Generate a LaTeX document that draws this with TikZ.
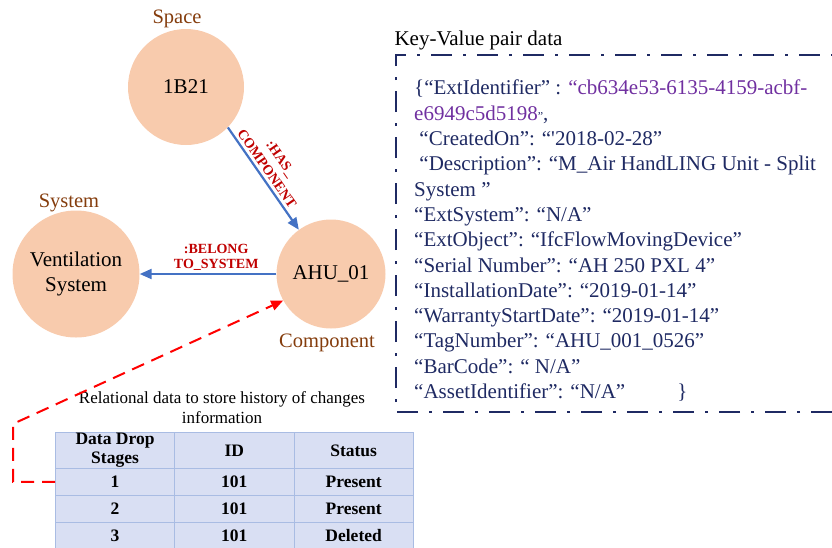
\documentclass[tikz,border=0pt]{standalone}
\usepackage{fontspec}
\setmainfont{Liberation Serif}
\usepackage{xcolor}
\usetikzlibrary{arrows.meta}

\definecolor{peach}{HTML}{F8CBAD}
\definecolor{tagbrown}{HTML}{843C0C}
\definecolor{relblue}{HTML}{4472C4}
\definecolor{reldark}{HTML}{C00000}
\definecolor{navy}{HTML}{1F2A63}
\definecolor{idpurple}{HTML}{7030A0}
\definecolor{cellfill}{HTML}{D9DFF3}
\definecolor{cellline}{HTML}{A9BCE3}

\begin{document}
\begin{tikzpicture}[x=1pt,y=-1pt,
    entity/.style={circle,fill=peach,inner sep=0pt,align=center,font=\fontsize{21}{25}\selectfont},
    tagText/.style={text=tagbrown,font=\fontsize{20.5}{24}\selectfont},
    relArrow/.style={draw=relblue,line width=2.2pt,-{Triangle[length=12pt,width=10pt]}},
    relText/.style={text=reldark,font=\bfseries\fontsize{14}{15.5}\selectfont,align=center,inner sep=0pt},
    cell/.style={draw=cellline,fill=cellfill,line width=0.8pt,minimum width=119.3pt,minimum height=27pt,
                 inner sep=0pt,anchor=north west,align=center,font=\bfseries\fontsize{17.5}{19}\selectfont}]

    \useasboundingbox (0,0) rectangle (832,547);

    % the three entities
    \node[entity,minimum size=116pt] (space) at (186,87) {1B21};
    \node[entity,minimum size=127pt] (system) at (76,274) {Ventilation\\System};
    \node[entity,minimum size=109pt] (ahu) at (331,274) {AHU\_01};

    \node[tagText] (space-tag) at (177,19) {Space};
    \node[tagText] (system-tag) at (69,203) {System};
    \node[tagText] (ahu-tag) at (327,343) {Component};

    % relations
    \draw[relArrow] (space.-44) -- node[relText,font=\bfseries\fontsize{14}{17}\selectfont,pos=0.45,sloped,above=3pt] {:HAS\_\\COMPONENT} (ahu.126);
    \draw[relArrow] (ahu) -- node[relText,pos=0.44,above=2pt] {:BELONG\\TO\_SYSTEM} (system);

    % key-value store
    \node[anchor=west,font=\fontsize{21}{25}\selectfont] (kv-title) at (391,40) {Key-Value pair data};
    \draw[navy,line width=2.6pt,dash pattern=on 21pt off 11pt on 3pt off 11pt]
        (832,412) -- (396,412) -- (396,55) -- (832,55);
    \node[anchor=north west,inner sep=0pt,align=left,text=navy,font=\fontsize{21}{25.3}\selectfont] (kv-data) at (414,80) {%
        \{“ExtIdentifier” : \textcolor{idpurple}{“cb634e53-6135-4159-acbf-}\\
        \textcolor{idpurple}{e6949c5d5198}{\fontsize{12}{12}\selectfont"},\\
        \ “CreatedOn”: “\textquotesingle 2018-02-28”\\
        \ “Description”: “M\_Air HandLING Unit - Split\\
        System ”\\
        “ExtSystem”: “N/A”\\
        “ExtObject”: “IfcFlowMovingDevice”\\
        “Serial Number”: “AH 250 PXL 4”\\
        “InstallationDate”: “2019-01-14"\\
        “WarrantyStartDate”: “2019-01-14”\\
        “TagNumber”: “AHU\_001\_0526”\\
        “BarCode”: “ N/A”\\
        “AssetIdentifier”: “N/A”\hspace{52pt}\}};

    % relational history table
    \node[align=center,font=\fontsize{17}{20}\selectfont] (tbl-title) at (222,408)
        {Relational data to store history of changes\\information};
    \node[cell,minimum height=36pt] (h-1) at (55,432) {Data Drop\\Stages};
    \node[cell,minimum height=36pt] (h-2) at (174.3,432) {ID};
    \node[cell,minimum height=36pt] (h-3) at (293.6,432) {Status};
    \foreach \r/\stat in {1/Present,2/Present,3/Deleted}{% one row per data drop
      \node[cell] (r\r-1) at (55,441+27*\r) {\r};
      \node[cell] (r\r-2) at (174.3,441+27*\r) {101};
      \node[cell] (r\r-3) at (293.6,441+27*\r) {\stat};
    }

    % link from the table to the component
    \draw[red,line width=2pt,dash pattern=on 13pt off 8pt,-{Triangle[length=12pt,width=10pt]}]
        (r1-1.west) -- ++(-42,0) -- ++(0,-58) -- (ahu.209);

\end{tikzpicture}
\end{document}
